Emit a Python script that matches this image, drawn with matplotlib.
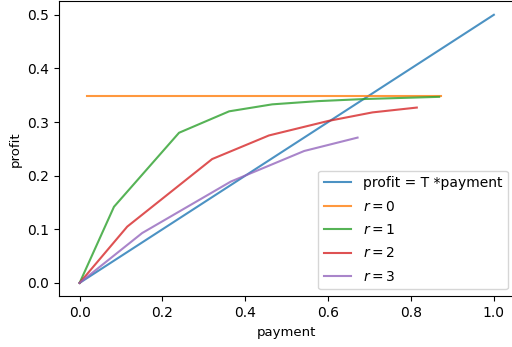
import matplotlib
matplotlib.use("Agg")
import matplotlib.pyplot as plt

# linear reference: profit = T * payment
pay_lin = [0.0, 1.0]
prof_lin = [0.0, 0.5]

# r = 0 (flat)
pay_r0 = [0.017, 0.872]
prof_r0 = [0.349, 0.349]

# r = 1
pay_r1 = [0.0, 0.083, 0.240, 0.361, 0.465, 0.575, 0.690, 0.868]
prof_r1 = [0.0, 0.142, 0.280, 0.320, 0.333, 0.339, 0.343, 0.347]

# r = 2
pay_r2 = [0.0, 0.115, 0.320, 0.457, 0.600, 0.707, 0.814]
prof_r2 = [0.0, 0.105, 0.231, 0.275, 0.302, 0.318, 0.327]

# r = 3
pay_r3 = [0.0, 0.151, 0.365, 0.542, 0.671]
prof_r3 = [0.0, 0.093, 0.189, 0.246, 0.271]

fig = plt.figure(figsize=(5.12, 3.47), dpi=100)
ax = fig.add_axes([0.115, 0.146, 0.89, 0.850])

ax.plot(pay_lin, prof_lin, alpha=0.8, label="profit = T *payment")
ax.plot(pay_r0, prof_r0, alpha=0.8, label="$r = 0$")
ax.plot(pay_r1, prof_r1, alpha=0.8, label="$r = 1$")
ax.plot(pay_r2, prof_r2, alpha=0.8, label="$r = 2$")
ax.plot(pay_r3, prof_r3, alpha=0.8, label="$r = 3$")

ax.set_xlabel("payment", fontsize=9.5)
ax.set_ylabel("profit", fontsize=9.5)
ax.tick_params(labelsize=10)
ax.legend(loc="lower right", fontsize=10, labelspacing=0.68)

fig.savefig("out.png", dpi=100)
